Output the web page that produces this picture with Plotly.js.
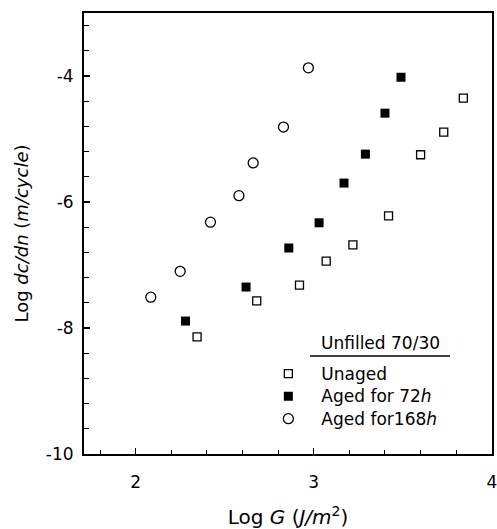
<!DOCTYPE html>
<html>
<head>
<meta charset="utf-8">
<script src="https://cdn.plot.ly/plotly-3.0.1.min.js"></script>
<style>html,body{margin:0;padding:0;background:#fff;}#chart{width:497px;height:529px;}</style>
</head>
<body>
<div id="chart"></div>
<script>
// Unaged
const unagedX = [2.345, 2.68, 2.92, 3.07, 3.22, 3.42, 3.60, 3.73, 3.84];
const unagedY = [-8.14, -7.57, -7.32, -6.94, -6.68, -6.22, -5.25, -4.89, -4.35];
// Aged for 72h
const aged72X = [2.28, 2.62, 2.86, 3.03, 3.17, 3.29, 3.40, 3.49];
const aged72Y = [-7.89, -7.35, -6.73, -6.33, -5.70, -5.24, -4.59, -4.02];
// Aged for 168h
const aged168X = [2.085, 2.25, 2.42, 2.58, 2.66, 2.83, 2.97];
const aged168Y = [-7.51, -7.10, -6.32, -5.90, -5.38, -4.81, -3.87];

const seriesNames = ['Unaged', 'Aged for 72<i>h</i>', 'Aged for168<i>h</i>'];
const legendTitle = 'Unfilled 70/30';
const xTickVals = [2, 3, 4];
const yTickVals = [-10, -8, -6, -4];

const font = 'DejaVu Sans, Arial, sans-serif';
const big = s => '<span style="font-size:17px">' + s + '</span>';

const traces = [
  {x: unagedX, y: unagedY, name: big(seriesNames[0]), type: 'scatter', mode: 'markers',
   marker: {symbol: 'square-open', size: 8, color: '#000', line: {width: 1.3, color: '#000'}}},
  {x: aged72X, y: aged72Y, name: big(seriesNames[1]), type: 'scatter', mode: 'markers',
   marker: {symbol: 'square', size: 9, color: '#000', line: {width: 0}}},
  {x: aged168X, y: aged168Y, name: big(seriesNames[2]), type: 'scatter', mode: 'markers',
   marker: {symbol: 'circle-open', size: 10, color: '#000', line: {width: 1.3, color: '#000'}}}
];

const layout = {
  width: 497, height: 529,
  margin: {l: 84, r: 5, t: 13, b: 75},
  paper_bgcolor: '#fff', plot_bgcolor: '#fff',
  font: {family: font, size: 17, color: '#000'},
  showlegend: true,
  legend: {x: 0.42, y: 0.219, xanchor: 'left', yanchor: 'top', bgcolor: 'rgba(0,0,0,0)',
           font: {family: font, size: 15, color: '#000'}, itemwidth: 56, tracegroupgap: 0},
  xaxis: {
    range: [1.71, 4.001], tickvals: xTickVals, ticktext: xTickVals.map(String),
    ticks: 'inside', ticklen: 6, tickwidth: 1.3, tickcolor: '#000',
    minor: {dtick: 0.2, tick0: 2, ticks: 'inside', ticklen: 4, tickwidth: 1, tickcolor: '#000'},
    showline: true, linecolor: '#000', linewidth: 2, mirror: true,
    showgrid: false, zeroline: false, ticklabelstandoff: 12, ticklabeloverflow: 'allow',
    tickfont: {family: font, size: 17, color: '#000'},
    title: {text: 'Log <i>G</i> (<i>J/m</i><sup>2</sup>)', font: {family: font, size: 20, color: '#000'}, standoff: 20}
  },
  yaxis: {
    range: [-10, -3], tickvals: yTickVals, ticktext: yTickVals.map(String),
    ticks: 'inside', ticklen: 6, tickwidth: 1.3, tickcolor: '#000',
    minor: {dtick: 0.4, tick0: -10, ticks: 'inside', ticklen: 5, tickwidth: 1, tickcolor: '#000'},
    showline: true, linecolor: '#000', linewidth: 2, mirror: true,
    showgrid: false, zeroline: false, ticklabelstandoff: 5,
    tickfont: {family: font, size: 17, color: '#000'},
    title: {text: 'Log <i>dc/dn</i> (<i>m/cycle</i>)', font: {family: font, size: 18, color: '#000'}, standoff: 13}
  },
  annotations: [
    {text: legendTitle, xref: 'paper', yref: 'paper', x: 0.727, y: 0.252, xanchor: 'center', yanchor: 'middle',
     showarrow: false, font: {family: font, size: 17, color: '#000'}}
  ],
  shapes: [
    {type: 'line', xref: 'paper', yref: 'paper', x0: 0.554, x1: 0.897, y0: 0.222, y1: 0.222,
     line: {color: '#000', width: 1.5}}
  ]
};

Plotly.newPlot('chart', traces, layout, {displayModeBar: false, staticPlot: true});
</script>
</body>
</html>
